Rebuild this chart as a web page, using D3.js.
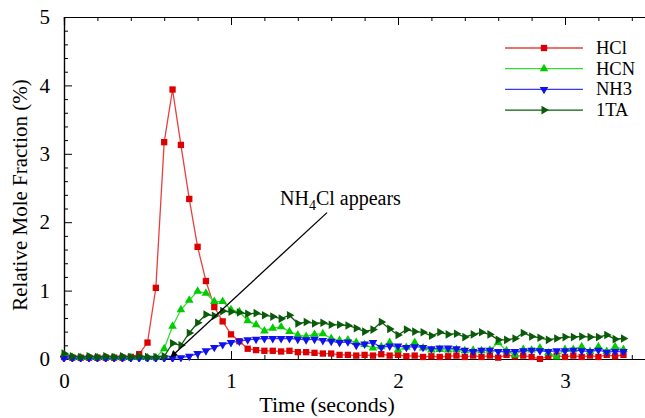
<!DOCTYPE html>
<html><head><meta charset="utf-8">
<script src="https://cdn.jsdelivr.net/npm/d3@7"></script>
<style>body{margin:0;background:#fff;}svg{display:block;}text{font-family:"Liberation Serif","Times New Roman",Times,serif;}</style>
</head><body>
<script>
const timeStep = 0.05;
const seriesNames = ["HCl","HCN","NH3","1TA"];
const hcl = [0.03,0.02,0.02,0.02,0.02,0.02,0.02,0.02,0.03,0.07,0.24,1.04,3.17,3.94,3.13,2.34,1.64,1.14,0.76,0.55,0.36,0.26,0.15,0.13,0.12,0.12,0.11,0.12,0.10,0.10,0.09,0.08,0.08,0.06,0.06,0.05,0.06,0.05,0.07,0.05,0.06,0.04,0.05,0.03,0.04,0.03,0.04,0.05,0.03,0.05,0.03,0.05,0.02,0.06,0.04,0.05,0.03,0.00,0.04,0.05,0.03,0.05,0.03,0.05,0.03,0.06,0.04,0.06];
const hcn = [0.06,0.02,0.02,0.02,0.02,0.02,0.02,0.02,0.02,0.02,0.02,0.02,0.15,0.48,0.72,0.86,0.99,0.96,0.84,0.84,0.72,0.69,0.56,0.50,0.41,0.45,0.47,0.40,0.35,0.33,0.36,0.37,0.30,0.27,0.28,0.24,0.21,0.16,0.18,0.24,0.13,0.17,0.24,0.16,0.13,0.14,0.13,0.14,0.12,0.13,0.12,0.13,0.24,0.12,0.06,0.14,0.13,0.16,0.09,0.03,0.14,0.14,0.18,0.11,0.18,0.11,0.18,0.14];
const nh3 = [0.01,0.01,0.01,0.01,0.01,0.01,0.01,0.01,0.01,0.01,0.01,0.01,0.01,0.01,0.02,0.04,0.08,0.12,0.17,0.21,0.24,0.26,0.28,0.29,0.30,0.30,0.30,0.30,0.29,0.28,0.29,0.27,0.26,0.24,0.25,0.20,0.22,0.24,0.17,0.19,0.19,0.17,0.18,0.17,0.15,0.16,0.16,0.15,0.13,0.11,0.13,0.13,0.11,0.11,0.11,0.12,0.13,0.12,0.11,0.12,0.12,0.13,0.12,0.11,0.13,0.10,0.11,0.11];
const ta1 = [0.08,0.04,0.03,0.04,0.03,0.04,0.03,0.04,0.03,0.04,0.03,0.03,0.04,0.23,0.20,0.38,0.53,0.65,0.63,0.70,0.69,0.68,0.66,0.67,0.64,0.62,0.59,0.64,0.52,0.54,0.52,0.53,0.50,0.50,0.49,0.45,0.40,0.43,0.54,0.44,0.35,0.43,0.40,0.39,0.34,0.39,0.36,0.37,0.32,0.36,0.39,0.36,0.28,0.28,0.30,0.38,0.33,0.31,0.28,0.30,0.32,0.32,0.33,0.32,0.32,0.35,0.29,0.30];
const xTicks = [0,1,2,3];
const yTicks = [0,1,2,3,4,5];
const annotation = "appears";

const W = 645, H = 418;
const svg = d3.select("body").append("svg").attr("width",W).attr("height",H);
const x = d3.scaleLinear().domain([0,3.5]).range([64,648.5]);
const y = d3.scaleLinear().domain([0,5]).range([359,17]);

const styles = [
  {line:"#e84040", fill:"#dd0000", sym:d3.symbolSquare, size:40, rot:0},
  {line:"#33dd33", fill:"#00cc00", sym:d3.symbolTriangle, size:32, rot:0},
  {line:"#3a3aff", fill:"#1010ee", sym:d3.symbolTriangle, size:32, rot:180},
  {line:"#0a5e0a", fill:"#0a5a0a", sym:d3.symbolTriangle, size:32, rot:90}
];
const allData = [hcl,hcn,nh3,ta1];

svg.append("clipPath").attr("id","clp").append("rect").attr("x",60).attr("y",10).attr("width",600).attr("height",352);

function drawAxis(axisGen, transform){
  const g = svg.append("g").attr("transform",transform).call(axisGen);
  g.attr("font-family",null);
  g.select(".domain").attr("stroke","#000").attr("stroke-width",1.2);
  g.selectAll(".tick line").attr("stroke","#000");
  return g;
}
const xMinor = d3.range(0,3.5001,0.2).filter(v=>Math.abs(v-Math.round(v))>1e-6);
const yMinor = d3.range(0,5.0001,0.2).filter(v=>Math.abs(v-Math.round(v))>1e-6);

const gxb = drawAxis(d3.axisBottom(x).tickValues(xTicks).tickSize(-8).tickPadding(14).tickFormat(d3.format("d")), "translate(0,359)");
gxb.selectAll(".tick text").attr("font-size",21).attr("fill","#000");
drawAxis(d3.axisBottom(x).tickValues(xMinor).tickSize(-4).tickFormat(""), "translate(0,359)");
drawAxis(d3.axisTop(x).tickValues(xTicks).tickSize(-8).tickFormat(""), "translate(0,17)");
drawAxis(d3.axisTop(x).tickValues(xMinor).tickSize(-4).tickFormat(""), "translate(0,17)");
const gyl = drawAxis(d3.axisLeft(y).tickValues(yTicks).tickSize(-8).tickPadding(14).tickFormat(d3.format("d")), "translate(64,0)");
gyl.selectAll(".tick text").attr("font-size",21).attr("fill","#000");
drawAxis(d3.axisLeft(y).tickValues(yMinor).tickSize(-4).tickFormat(""), "translate(64,0)");

svg.append("text").attr("x",327).attr("y",412).attr("text-anchor","middle").attr("font-size",22).text("Time (seconds)");
svg.append("text").attr("transform","translate(27,195) rotate(-90)").attr("text-anchor","middle").attr("font-size",21).text("Relative Mole Fraction (%)");

const line = d3.line().x((d,i)=>x(i*timeStep)).y(d=>y(d));
const gData = svg.append("g").attr("clip-path","url(#clp)");
allData.forEach((arr,k)=>{
  const st = styles[k];
  gData.append("path").datum(arr).attr("d",line).attr("fill","none").attr("stroke",st.line).attr("stroke-width",1.3);
  gData.selectAll(null).data(arr).enter().append("path")
    .attr("d",d3.symbol().type(st.sym).size(st.size))
    .attr("transform",(d,i)=>`translate(${x(i*timeStep)},${y(d)}) rotate(${st.rot})`)
    .attr("fill",st.fill);
});

const defs = svg.append("defs");
defs.append("marker").attr("id","arr").attr("viewBox","0 0 10 10").attr("refX",9).attr("refY",5)
  .attr("markerWidth",10).attr("markerHeight",7).attr("orient","auto").attr("markerUnits","userSpaceOnUse")
  .append("path").attr("d","M0,0 L10,5 L0,10 Z").attr("fill","#000");
svg.append("line").attr("x1",x(1.575)).attr("y1",y(2.14)).attr("x2",x(0.64)).attr("y2",y(0.03))
  .attr("stroke","#000").attr("stroke-width",1.3).attr("marker-end","url(#arr)");
const t = svg.append("text").attr("x",280).attr("y",205).attr("font-size",20);
t.append("tspan").text("NH");
t.append("tspan").attr("font-size",14).attr("dy",5).text("4");
t.append("tspan").attr("dy",-5).text("Cl " + annotation);

const lg = svg.append("g");
seriesNames.forEach((n,k)=>{
  const st = styles[k];
  const yy = 48 + k*20.7;
  lg.append("line").attr("x1",505).attr("x2",583).attr("y1",yy).attr("y2",yy).attr("stroke",st.line).attr("stroke-width",1.3);
  lg.append("path").attr("d",d3.symbol().type(st.sym).size(st.size)).attr("transform",`translate(544,${yy}) rotate(${st.rot})`).attr("fill",st.fill);
  lg.append("text").attr("x",596).attr("y",yy+6).attr("font-size",18.5).text(n);
});
</script>
</body></html>
